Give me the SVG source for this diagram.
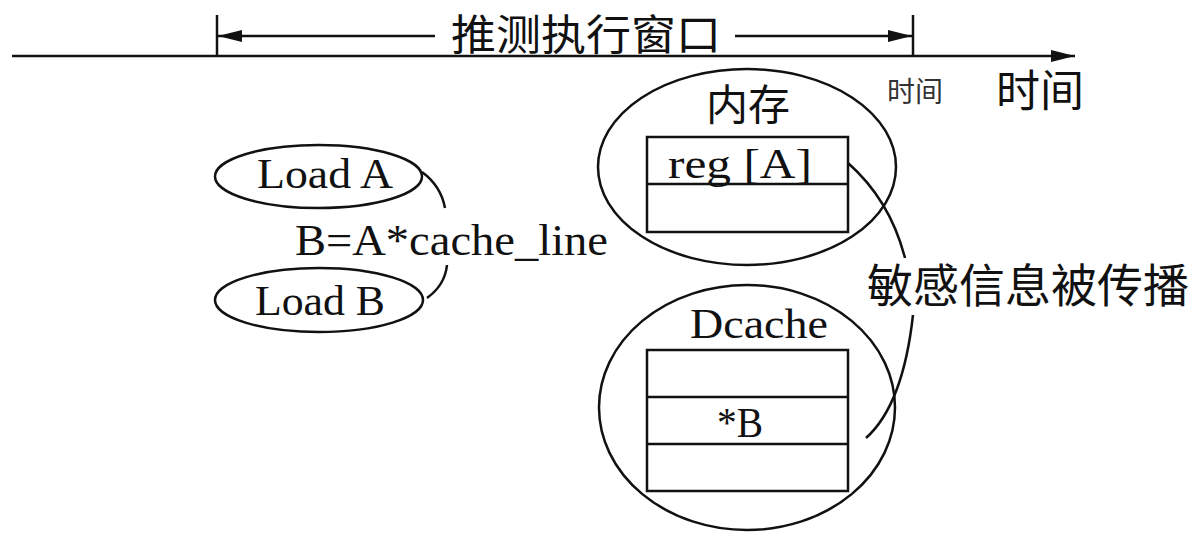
<svg xmlns="http://www.w3.org/2000/svg" width="1200" height="537" viewBox="0 0 1200 537">
<style>
.ln{fill:none;stroke:#111;stroke-width:2.5}
.sh{fill:#fff;stroke:#111;stroke-width:2.5}
.lat{font-family:"Liberation Serif","Times New Roman",serif;fill:#111}
.cjk{font-family:"Noto Sans CJK SC","Noto Sans CJK JP",sans-serif;fill:#111}
.sm{fill:#333}
</style>
<defs>
<marker id="ah" viewBox="0 0 24 12" refX="24" refY="6" markerWidth="24" markerHeight="12" markerUnits="userSpaceOnUse" orient="auto">
<path d="M0,0 L24,6 L0,12 Z" fill="#111"/>
</marker>
</defs>
<rect width="1200" height="537" fill="#fff"/>
<g id="timeline">
<line class="ln" x1="12" y1="56" x2="1075" y2="56" marker-end="url(#ah)"/>
<line class="ln" x1="217" y1="15" x2="217" y2="56"/>
<line class="ln" x1="913" y1="15" x2="913" y2="56"/>
<line class="ln" x1="435" y1="36" x2="218" y2="36" marker-end="url(#ah)"/>
<line class="ln" x1="735" y1="36" x2="912" y2="36" marker-end="url(#ah)"/>
<text class="cjk" x="586" y="50" font-size="42" text-anchor="middle" textLength="270" lengthAdjust="spacingAndGlyphs">推测执行窗口</text>
<text class="cjk sm" x="915" y="102" font-size="28" text-anchor="middle">时间</text>
<text class="cjk" x="1040" y="107" font-size="44" text-anchor="middle">时间</text>
</g>
<g id="loadA">
<ellipse class="sh" cx="318.5" cy="176.5" rx="103.5" ry="31.5"/>
<text class="lat" x="257" y="188" font-size="43" textLength="136" lengthAdjust="spacingAndGlyphs">Load A</text>
</g>
<g id="loadB">
<ellipse class="sh" cx="319" cy="300" rx="104" ry="32"/>
<text class="lat" x="255" y="315" font-size="43" textLength="130" lengthAdjust="spacingAndGlyphs">Load B</text>
</g>
<g id="calc">
<text class="lat" x="295" y="255" font-size="45" textLength="313" lengthAdjust="spacingAndGlyphs">B=A*cache_line</text>
</g>
<g id="memory">
<ellipse class="sh" cx="747" cy="167" rx="149" ry="98"/>
<text class="cjk" x="748" y="120" font-size="42" text-anchor="middle">内存</text>
<rect class="sh" x="647" y="137" width="201" height="95"/>
<line class="ln" x1="647" y1="184" x2="848" y2="184"/>
<text class="lat" x="668" y="178" font-size="43" textLength="144" lengthAdjust="spacingAndGlyphs">reg [A]</text>
</g>
<g id="dcache">
<ellipse class="sh" cx="747" cy="407.5" rx="148" ry="122.5"/>
<text class="lat" x="690" y="338" font-size="43" textLength="138" lengthAdjust="spacingAndGlyphs">Dcache</text>
<rect class="sh" x="647" y="350" width="201" height="141"/>
<line class="ln" x1="647" y1="397" x2="848" y2="397"/>
<line class="ln" x1="647" y1="444" x2="848" y2="444"/>
<text class="lat" x="717" y="437" font-size="43" textLength="46" lengthAdjust="spacingAndGlyphs">*B</text>
</g>
<g id="label">
<text class="cjk" x="1028" y="302" font-size="46" text-anchor="middle">敏感信息被传播</text>
</g>
<g id="connectors">
<path class="ln" d="M422,172 Q441,186 445,208"/>
<path class="ln" d="M447,265 Q445,285 427,298"/>
<path class="ln" d="M848,163 Q890,200 905,258"/>
<path class="ln" d="M913,315 Q903,405 866,438"/>
</g>
</svg>
